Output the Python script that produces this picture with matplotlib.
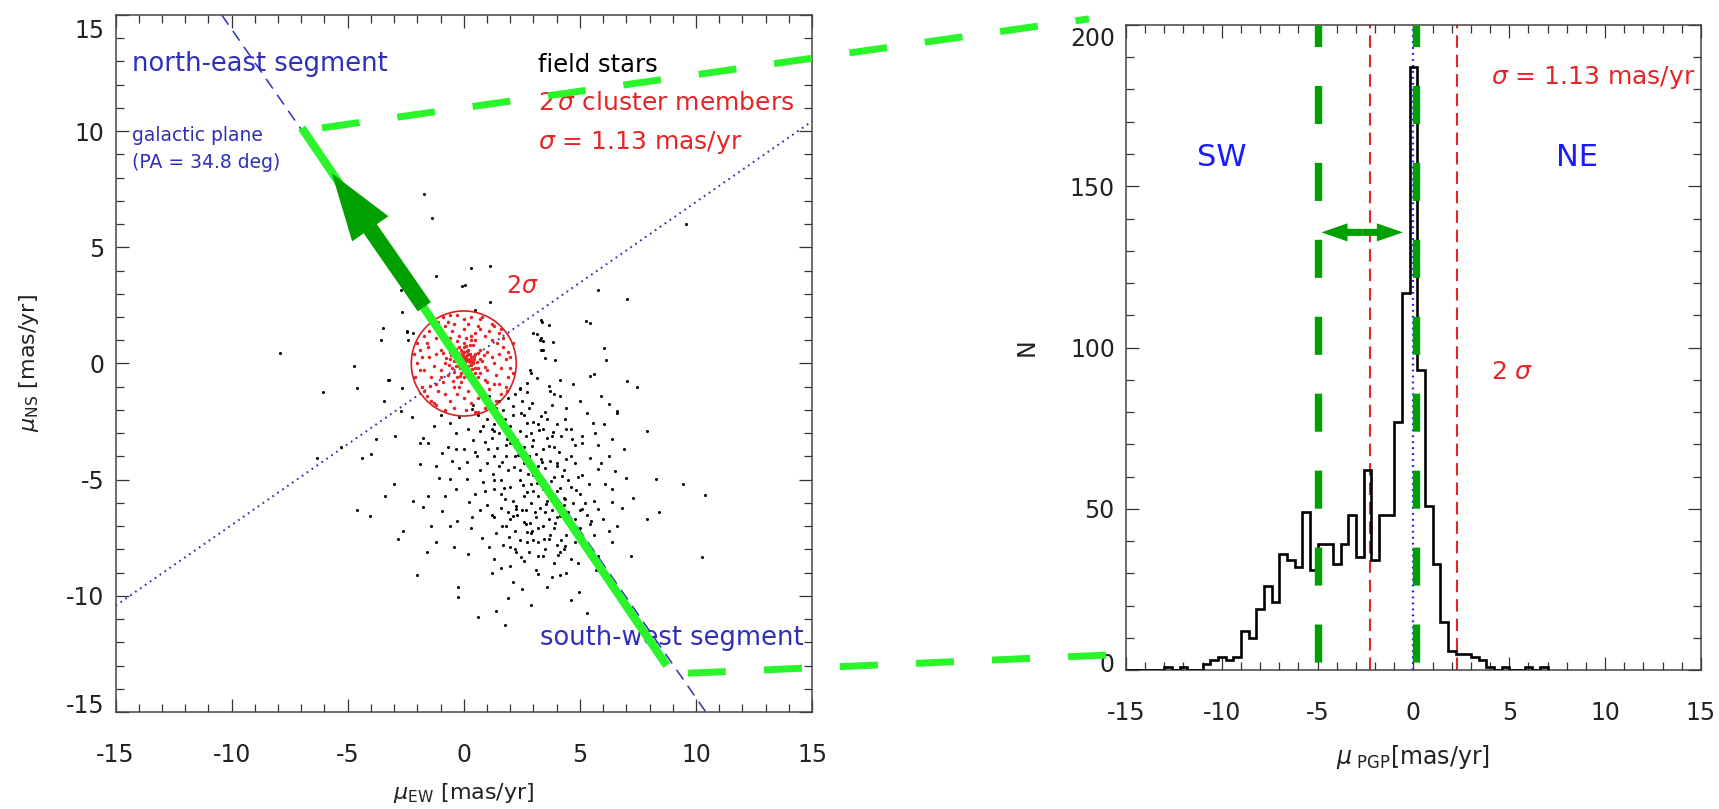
import numpy as np
import matplotlib
matplotlib.use('Agg')
import matplotlib.pyplot as plt
from matplotlib.patches import Circle, ConnectionPatch
from matplotlib.ticker import MultipleLocator
from matplotlib.transforms import ScaledTranslation

plt.rcParams['font.family'] = ['DejaVu Sans']
plt.rcParams['lines.scale_dashes'] = False
plt.rcParams['axes.unicode_minus'] = False

# ---- data -------------------------------------------------------------
# field stars (mu_EW, mu_NS) [mas/yr]
field_x = [-1.70, -1.39, 0.31, 1.14, -1.18, -0.07, 0.07, 5.79, 7.04, 9.57, -2.72, -3.47, -2.43,
           -2.20, 0.47, 3.31, 3.66, 5.27, 5.43, 3.14, 3.31, 3.43, 6.03, 6.14, -7.91, -4.72, -3.24,
           -4.61, -6.07, 3.50, 3.31, 2.91, 4.14, 5.43, 5.60, 7.04, 7.44, 2.72, 3.14, 3.66, 3.90,
           4.14, 5.91, 6.26, 6.62, -3.42, -2.72, -2.67, -3.58, -2.45, -2.40, 1.13, 3.36, 3.00,
           3.28, 3.40, 3.85, 3.93, 2.85, 2.42, 2.71, -3.26, -2.67, -2.24,
           -1.30, -0.59, -0.35, 0.36, 1.30, 0.83, 1.30, 1.77, 2.13, 2.48, 2.72, 2.95, 3.31, 3.43,
           3.78, 4.37, 4.61, 5.32, 5.55, 6.03, 6.62, 5.67, 6.38, 7.91, -1.77, -1.89, -2.95, -3.78,
           -4.37, -4.01, -6.31, -3.02, -1.89, -1.53, -0.94, -0.35, 0.12, 0.59, 1.06, 1.65, 2.01,
           2.48, 2.84, 3.31, 3.66, 4.02, 4.61, 5.08, 5.43, 5.79, 6.26, 6.50, 6.97, 8.27, 9.45,
           10.40, 6.38, 5.79, 5.08, 4.37, 3.66, 3.19, 2.72, 2.25, 1.77, 1.30, 0.83, 0.12, -0.59,
           -1.06, -1.53, -1.77, -0.94, -0.35, 0.24, 0.36, 1.30, 1.65, 2.13, 2.60, 3.07, 3.66, 4.14,
           4.61, 5.43, 6.26, 7.91, 8.39, 7.21, 10.28, -4.06, -2.83, -2.60, -1.42, -1.18, -0.59,
           2.72, 2.95, 3.19, 3.66, 4.37, 4.84, 5.32, 5.79, 6.38, 2.01, 2.25, 2.72, 1.30, 3.19, 4.14,
           -2.01, -0.24, -0.24, 3.19, 4.14, 4.96, 5.32, 1.37, 1.77,
           1.5, 1.9, 2.2, 2.5, 2.8, 1.6, 2.0, 2.4, 2.9, 3.2, 3.6, 1.2, 1.5, 1.8, 2.3, 2.6, 3.0, 3.4,
           3.9, 4.2, 1.3, 1.9, 2.2, 2.6, 3.0, 3.5, 3.9, 4.3, 4.8, 5.1, 1.6, 2.0, 2.4, 2.9, 3.3, 3.6,
           4.0, 4.6, 5.0, 5.4, 1.9, 2.5, 2.9, 3.3, 3.8, 4.3, 4.8, 5.3, 2.2, 2.7, 3.4, 3.9, 4.4, 5.0,
           3.0, 3.5, 4.0, 4.6, 2.6, 3.9, 0.6, 0.9, 0.4, 0.2, -0.7, 0.7, -0.2, 0.5, 1.0, 1.4, 0.8,
           4.8, 5.8, 6.1, 5.6, 6.8, 1.0, 1.3, 3.8, 4.4, 5.0, 4.7, 1.6, 2.1, 3.6, 2.9,
           1.1, 1.4, 1.7, 2.1, 2.6, 3.0, 3.5, 4.0, 1.0, 0.7, 1.2, 1.8, 2.2, 2.7, 3.1, 3.6, 4.1, 4.4,
           4.0, 0.5, 1.0, 1.5, 1.8, 2.4, 2.8, 3.2, 3.7, 4.5, 4.9, 0.9, 1.3, 1.6, 2.1, 2.6, 3.0, 3.4,
           3.9, 4.3, 4.7, 5.2, 0.7, 1.2, 1.6, 2.0, 2.3, 2.7, 3.1, 3.5, 4.0, 4.5, 5.0, 5.5, 1.8, 2.4,
           2.9, 3.2, 3.7, 4.2, 4.8, 5.6, 1.1, 1.7, 2.2, 2.8, 3.4, 4.3, 4.9, 5.4, 2.0, 3.1, 4.4, 3.8,
           1.2, 2.5, 0.2, -0.4, -0.8, -0.3, 0.3, -1.2, -0.5, 0.0, -1.0, -0.2, 0.4, 2.4, 3.7, 4.4,
           5.1, 5.9, 6.4, 6.0, 5.7, 6.6, 7.3, 6.9, -2.2, -1.6, -3.4, -5.3, -4.6, 1.9, 0.6, 4.6,
           2.05, 2.35, 2.75, 3.15, 3.55, 3.95, 2.55, 2.15, 3.35, 3.75, 4.15, 4.55, 1.85, 1.45, 2.95,
           3.25, 3.85, 4.65, 1.25, 1.75, 2.25, 2.85, 3.45, 4.05, 1.95, 2.45, 4.25, 4.85]
field_y = [7.30, 6.25, 4.11, 4.18, 3.78, 3.32, 3.36, 3.18, 2.79, 5.99, 3.18, 1.53, 1.39,
           1.32, 2.32, 1.89, 1.67, 1.82, 1.75, 1.27, 1.10, 0.96, 0.67, 0.17, 0.46, -0.11, -0.69,
           -1.04, -1.23, 0.24, 0.60, -0.40, -0.69, -0.54, -0.47, -0.76, -1.00, -0.83, -0.62, -0.97,
           -1.33, -1.40, -1.40, -1.76, -2.05, -1.62, -2.05, 2.20, 1.01, 1.36, 1.00, 2.66, 1.79, 1.31,
           1.00, 0.58, 0.94, 0.15, -0.28, -1.05, -1.21, -0.71, -1.07, -2.29,
           -2.69, -2.55, -2.98, -1.97, -2.12, -2.69, -2.90, -2.40, -1.83, -2.12, -2.55, -1.69, -2.26,
           -2.83, -3.12, -2.40, -2.83, -2.12, -2.55, -2.62, -2.12, -2.98, -3.26, -2.90, -3.19, -3.41,
           -3.12, -3.26, -4.05, -3.91, -4.05, -5.19, -4.33, -3.41, -3.84, -3.69, -4.26, -3.98, -3.69,
           -4.26, -3.41, -3.84, -4.55, -4.12, -3.55, -4.41, -3.98, -3.41, -4.05, -4.55, -3.98, -4.62,
           -4.91, -4.98, -5.19, -5.67, -5.98, -6.27, -6.27, -5.84, -5.41, -5.69, -5.55, -6.12, -5.84,
           -5.41, -5.12, -4.98, -4.98, -4.91, -5.69, -6.19, -6.34, -5.41, -5.98, -6.62, -6.62, -6.98,
           -6.55, -6.84, -6.41, -6.70, -6.55, -7.12, -6.91, -7.20, -6.70, -6.41, -8.27, -8.34, -6.55,
           -7.55, -7.20, -6.98, -7.70, -6.98, -7.27, -7.20, -7.70, -7.55, -7.84, -7.41, -7.91, -8.27,
           -7.70, -7.91, -8.13, -7.70, -8.41, -8.27, -8.13, -9.10, -9.63, -10.06, -9.06, -9.09, -9.82,
           -10.74, -10.67, -11.27,
           -1.6, -1.5, -1.3, -1.6, -1.9, -2.3, -2.7, -2.9, -3.0, -2.6, -2.4, -3.2, -3.0, -3.5, -3.3,
           -3.6, -3.3, -3.7, -3.6, -3.1, -4.0, -4.6, -4.0, -4.3, -4.8, -4.5, -4.9, -4.6, -4.3, -4.8,
           -5.0, -5.3, -5.0, -5.2, -5.0, -5.9, -5.5, -5.3, -5.6, -5.2, -6.4, -6.3, -6.0, -6.2, -6.3,
           -6.1, -6.7, -6.5, -7.2, -6.9, -7.0, -7.1, -7.4, -7.1, -7.6, -8.0, -7.8, -8.4, -8.5, -8.6,
           -2.2, -3.4, -3.3, -2.8, -3.6, -4.6, -4.5, -5.6, -6.1, -7.3, -7.5, -3.5, -3.5, -5.2, -5.9,
           -6.2, -1.8, -2.6, -1.8, -1.9, -1.6, -0.9, -8.8, -9.4, -9.6, -10.4,
           -1.4, -1.9, -2.0, -2.2, -2.2, -2.5, -2.1, -2.6, -2.4, -2.9, -2.8, -2.9, -3.6, -3.1, -3.9,
           -3.2, -3.8, -4.1, -4.3, -3.8, -4.3, -4.4, -4.0, -4.6, -4.0, -4.4, -4.2, -5.0, -4.9, -5.5,
           -5.0, -5.6, -5.9, -5.7, -5.5, -5.4, -5.7, -5.8, -6.0, -6.0, -6.3, -6.5, -6.2, -6.7, -6.5,
           -6.3, -6.6, -6.4, -6.6, -6.4, -6.3, -6.8, -7.0, -7.6, -7.3, -7.1, -7.4, -7.6, -7.7, -7.4,
           -7.9, -7.8, -8.0, -8.1, -8.3, -8.0, -8.6, -8.1, -8.7, -8.9, -9.0, -9.2, -9.0, -9.7, -8.2,
           -7.9, -5.7, -6.8, -7.1, -4.4, -4.2, -3.7, -2.2, -2.3, -1.8, -1.1, -1.2, -2.8, -3.1, -4.3,
           -5.4, -6.7, -8.9, -7.0, -5.8, -3.7, -5.9, -8.1, -5.7, -3.6, -6.3, -10.1, -10.9, -10.2,
           -3.05, -3.95, -4.75, -5.15, -6.05, -6.85, -5.25, -4.45, -4.25, -5.05, -5.35, -6.85, -3.25,
           -3.65, -3.55, -2.85, -2.95, -3.25, -4.75, -5.35, -6.25, -6.85, -7.55, -8.25, -7.45, -8.35,
           -4.85, -5.45]

# 2 sigma cluster members
member_x = [0.0, 0.1, -0.1, 0.2, -0.2, 0.3, -0.3, 0.0, 0.1, -0.1, 0.4, -0.4, 0.2, -0.2, 0.5, -0.5,
            0.3, -0.3, 0.6, -0.6, 0.0, 0.4, -0.5, 0.7, -0.7, 0.6, 0.1, -0.05, 0.15, -0.25, 0.25,
            -0.15, 0.35, 0.05, -0.35, 0.45, 0.2, -0.1, 0.1, -0.4, 0.5, -0.6, 0.0, 0.8, -0.8, 0.3,
            -0.3, 0.05, -0.2, 0.3,
            1.0, -1.0, 0.9, -0.9, 0.5, -0.5, 1.3, -1.3, 0.2, -0.3, 1.2, -1.2, 1.1, -1.1, 0.7, -0.8,
            1.5, -1.5, 0.6, -0.6, 1.4, -1.4, 0.0, 0.0, 1.6, -1.6, 0.9, -0.9, 1.0, -1.0, 0.4, -0.4,
            0.7, -0.7, 1.3, -1.2, 0.3, -0.2, 1.7, -1.7,
            1.9, -1.9, 1.8, -1.8, 1.2, -1.1, 0.9, -0.8, 0.3, -0.3, 2.0, -2.0, 1.5, -1.5, 1.4, -1.4,
            0.5, -0.4, 2.1, -2.1, 0.7, -0.7, 1.7, -1.7, 1.9, -1.9, 1.1, -1.2, 0.0, 0.1, 2.0, -2.0,
            1.6, -1.6, 0.8, -0.9, 1.3, -1.3,
            0.05, -0.05, 0.12, -0.12, 0.22, -0.22, 0.02, 0.18, -0.18, 0.28, -0.08, 0.38, -0.32, 0.08,
            -0.02, 0.32, -0.28, 0.15, -0.42, 0.42, 0.0, -0.15, 0.55, -0.55, 0.25, -0.35, 0.62, -0.62,
            0.48, -0.1, 0.7, -0.75, 0.85, -0.45, 0.35, 0.9, -0.9, 0.5, -0.6, 0.1, -0.2,
            1.2, -1.2, 1.0, -1.0, 0.6, -0.4, 1.45, -1.45, 0.8, -0.8, 1.8, -1.8, 1.5, -1.55, 0.2, 0.3,
            1.1, -1.0, 2.1, -2.15, 1.6, -1.7, 0.6, -0.6, 1.85, -1.3]
member_y = [0.0, 0.2, 0.3, -0.1, -0.1, 0.3, 0.1, 0.5, -0.3, -0.4, 0.0, 0.4, 0.6, 0.7, 0.4, -0.2,
            -0.5, -0.6, -0.2, 0.2, 0.9, 0.8, 0.7, 0.6, -0.5, -0.6, 0.1, 0.15, 0.35, 0.45, 0.05,
            -0.2, -0.25, -0.15, 0.25, 0.2, 0.4, 0.6, 0.75, -0.35, -0.4, 0.5, -0.6, 0.1, 0.0, 1.0,
            0.95, 0.3, 0.2, 0.15,
            0.5, 0.6, -0.7, -0.8, 1.3, 1.4, 0.0, -0.1, -1.2, -1.3, 1.0, 1.1, -1.1, -1.2, 1.5, 1.6,
            0.4, 0.3, -1.5, -1.6, -0.5, -0.6, 1.5, -1.5, -0.2, 0.9, 1.2, 1.0, -0.3, -0.3, -0.9, -1.0,
            0.2, 0.9, -0.9, -0.9, 1.2, 1.2, 0.7, -0.3,
            0.5, 0.6, -1.0, -1.0, 1.7, 1.8, -1.9, -2.0, 2.0, 2.1, -0.2, 0.0, 1.3, 1.4, -1.6, -1.6,
            -2.1, -1.9, 0.9, -0.6, 1.9, 1.8, 1.1, 1.2, -0.6, -0.3, -1.8, -1.8, 1.9, -2.0, 0.3, 0.9,
            -1.3, -1.4, 2.0, 2.0, 1.6, -1.7,
            0.05, -0.05, 0.18, 0.22, 0.12, 0.02, 0.25, -0.18, 0.38, 0.42, 0.48, 0.08, -0.12, -0.28,
            0.38, -0.08, 0.32, 0.55, 0.12, 0.32, 0.7, -0.55, 0.05, 0.35, 0.8, 0.62, 0.45, -0.08,
            -0.18, -0.8, -0.4, 0.25, 0.35, -0.75, -0.75, -0.15, 0.45, 1.0, 1.1, 1.1, -1.0,
            0.3, 0.4, -0.8, -0.6, 1.6, 1.7, 0.9, -0.95, -1.3, -1.3, 0.2, 0.3, -0.9, 0.7, 1.7, -1.7,
            1.4, 1.4, -0.4, 0.4, 1.5, -1.2, -2.1, 2.1, -1.2, 1.75]

sigma = 1.13          # mas/yr
pa_deg = 34.8         # galactic plane position angle

# light green segment and dark green arrow (mu_EW, mu_NS)
seg_x = [8.74, -6.98]
seg_y = [-13.0, 10.14]
arrow_x = [-1.70, -5.68]
arrow_y = [2.44, 8.18]

# histogram of mu_PGP
edges = np.arange(56) * 0.4 - 15.0
counts = [0, 0, 0, 0, 0, 1, 0, 1, 0, 0, 2, 3, 4, 3, 4, 12, 10, 19, 26, 21, 36, 34, 32, 49,
          31, 39, 39, 33, 39, 48, 35, 62, 34, 48, 48, 77, 117, 187, 93, 51, 33, 15, 6, 5, 5,
          4, 3, 1, 0, 1, 0, 0, 1, 0, 1]
green_cuts = [-5.0, 0.15]
double_arrow_x = [-4.8, -0.55]
double_arrow_y = 135.7

# connector end points: (left panel data) -> (right panel data)
conn_top = [(-6.11, 10.14), (-16.93, 201.9)]
conn_bot = [(9.65, -13.33), (-15.94, 4.65)]

blue = '#2f2fb8'
red = '#e52525'
lgreen = '#2af52a'
dgreen = '#00a000'
frame = '#444444'

fig = plt.figure(figsize=(17.19, 8.09), dpi=100)
ax1 = fig.add_axes([0.0672, 0.1199, 0.4052, 0.8616])
ax2 = fig.add_axes([0.6550, 0.1718, 0.3345, 0.7973])

for ax in (ax1, ax2):
    for s in ax.spines.values():
        s.set_color(frame)
        s.set_linewidth(1.1)
    ax.tick_params(which='both', direction='in', top=True, right=True, colors='#333333',
                   labelsize=17, labelcolor='#222222')
    ax.tick_params(which='major', length=9.5, width=0.9)
    ax.tick_params(which='minor', length=5.5, width=0.9)
    ax.tick_params(axis='x', pad=22)
    ax.tick_params(axis='y', pad=8)
    ax.set_xlim(-15, 15)
    ax.xaxis.set_major_locator(MultipleLocator(5))
    ax.xaxis.set_minor_locator(MultipleLocator(1))

# ---- left panel -------------------------------------------------------
ax1.set_ylim(-15, 15)
ax1.yaxis.set_major_locator(MultipleLocator(5))
ax1.yaxis.set_minor_locator(MultipleLocator(1))

t = np.tan(np.radians(pa_deg))
xl = np.array([-15, 15])
ax1.plot(xl, xl * t, color=blue, lw=1.4, ls=(0, (1.3, 3.0)), zorder=2)
yl = np.array([15, -15])
ax1.plot(-yl * t, yl, color=blue, lw=1.1, ls=(0, (8.5, 5.5)), zorder=2)

ax1.plot(field_x, field_y, 'o', color='black', ms=2.2, mew=0, zorder=3)
ax1.plot(member_x, member_y, 'o', color=red, ms=2.5, mew=0, zorder=4)
ax1.add_patch(Circle((0, 0), 2 * sigma, fill=False, ec='#d42020', lw=1.2, zorder=4))

ax1.plot(seg_x, seg_y, color=lgreen, lw=6, solid_capstyle='butt', zorder=5)
ax1.arrow(arrow_x[0], arrow_y[0], arrow_x[1] - arrow_x[0], arrow_y[1] - arrow_y[0],
          width=0.69, head_width=1.9, head_length=2.9, length_includes_head=True,
          color=dgreen, lw=0, zorder=6)

ax1.text(-14.29, 12.89, 'north-east segment', color=blue, fontsize=18.5, va='center')
ax1.text(-14.29, 9.83, 'galactic plane', color=blue, fontsize=13.5, va='center')
ax1.text(-14.29, 8.63, '(PA = 34.8 deg)', color=blue, fontsize=13.5, va='center')
ax1.text(3.18, 12.85, 'field stars', color='black', fontsize=17.5, va='center')
ax1.text(3.18, 11.2, r'2$\,\sigma$ cluster members', color=red, fontsize=18, va='center')
ax1.text(3.18, 9.53, r'$\sigma$ = 1.13 mas/yr', color=red, fontsize=18, va='center')
ax1.text(3.28, -11.82, 'south-west segment', color=blue, fontsize=18.5, va='center')
ax1.text(2.5, 3.35, r'2$\sigma$', color=red, fontsize=17, ha='center', va='center')

ax1.set_xlabel(r'$\mu_{\rm EW}$ [mas/yr]', fontsize=16, color='#222222')
ax1.set_ylabel(r'$\mu_{\rm NS}$ [mas/yr]', fontsize=16, color='#222222')
ax1.xaxis.set_label_coords(0.5, -0.099)
ax1.yaxis.set_label_coords(-0.107, 0.5)

# ---- right panel ------------------------------------------------------
ax2.set_ylim(0, 200)
ax2.yaxis.set_major_locator(MultipleLocator(50))
ax2.yaxis.set_minor_locator(MultipleLocator(10))

ax2.stairs(counts, edges, color='black', lw=1.9, zorder=3)
for xv in (-2 * sigma, 2 * sigma):
    ax2.plot([xv, xv], [0, 200], color=red, lw=1.5, ls=(0, (9, 5)), zorder=2)
ax2.plot([0, 0], [0, 200], color='#1a1aff', lw=1.6, ls=(0, (1.3, 3.0)), zorder=2)
for xv in green_cuts:
    ax2.plot([xv, xv], [0, 200], color=dgreen, lw=5.3, ls=(49.7, (27.4, 28.0)),
             solid_capstyle='butt', zorder=4)

xmid = 0.5 * (double_arrow_x[0] + double_arrow_x[1])
for xe in double_arrow_x:
    ax2.arrow(xmid, double_arrow_y, xe - xmid, 0, width=2.2, head_width=5.6,
              head_length=1.36, length_includes_head=True, color=dgreen, lw=0, zorder=5)

ax2.text(4.04, 183.6, r'$\sigma$ = 1.13 mas/yr', color=red, fontsize=18, va='center')
ax2.text(-9.99, 158.8, 'SW', color='#1a1aff', fontsize=22, ha='center', va='center')
ax2.text(8.53, 158.8, 'NE', color='#1a1aff', fontsize=22, ha='center', va='center')
ax2.text(4.04, 92.4, r'2 $\sigma$', color=red, fontsize=18, va='center')

ax2.set_xlabel(r'$\mu_{\ \rm PGP}$[mas/yr]', fontsize=17, color='#222222')
ax2.set_ylabel('N', fontsize=17, color='#222222')
ax2.xaxis.set_label_coords(0.5, -0.113)
ax2.yaxis.set_label_coords(-0.151, 0.5)

# ---- dashed connectors between the panels ----------------------------
for a, b in (conn_top, conn_bot):
    con = ConnectionPatch(xyA=a, coordsA=ax1.transData, xyB=b, coordsB=ax2.transData,
                          color=lgreen, lw=5, ls=(0, (27.4, 27.4)), capstyle='butt',
                          zorder=10)
    fig.add_artist(con)

# nudge the end y tick labels inward, like the original
fig.canvas.draw()
nudges = {(ax1, 15): -14, (ax1, -15): 9, (ax2, 200): -12, (ax2, 0): 8}
for ax in (ax1, ax2):
    for tick, loc in zip(ax.yaxis.get_major_ticks(), ax.yaxis.get_majorticklocs()):
        key = (ax, round(loc))
        if key in nudges:
            off = ScaledTranslation(0, nudges[key] / 100, fig.dpi_scale_trans)
            tick.label1.set_transform(tick.label1.get_transform() + off)

fig.savefig('out.png', dpi=100)
